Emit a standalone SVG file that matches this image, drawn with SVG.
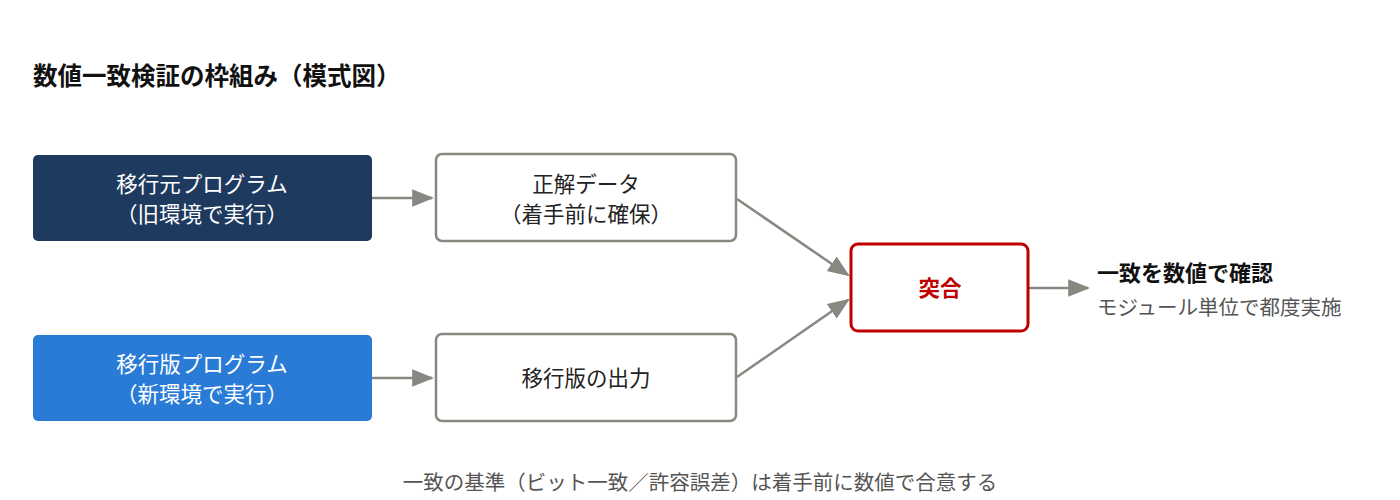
<svg xmlns="http://www.w3.org/2000/svg" width="1400" height="500" viewBox="0 0 1400 500">
<style>
text{font-family:"Noto Sans CJK JP","Noto Sans",sans-serif}
.t{font-size:21.5px;text-anchor:middle}
.w{fill:#fff}
.k{fill:#222}
.box{fill:#fff;stroke:#888780;stroke-width:2.5}
.c{stroke:#888780;stroke-width:2.5;fill:none}
</style>
<defs><marker id="ah" viewBox="0 0 10 10" refX="9" refY="5" markerWidth="22" markerHeight="22" markerUnits="userSpaceOnUse" orient="auto"><path d="M0,1L10,5L0,9z" fill="#888780"/></marker></defs>
<rect width="1400" height="500" fill="#fff"/>
<text x="33" y="85" font-size="24.5" font-weight="bold" fill="#111">数値一致検証の枠組み（模式図）</text>
<g id="connectors">
<line class="c" x1="372" y1="198" x2="432" y2="198" marker-end="url(#ah)"/>
<line class="c" x1="372" y1="378" x2="432" y2="378" marker-end="url(#ah)"/>
<line class="c" x1="737" y1="199" x2="848" y2="275" marker-end="url(#ah)"/>
<line class="c" x1="737" y1="377" x2="848" y2="300" marker-end="url(#ah)"/>
<line class="c" x1="1029" y1="288" x2="1088" y2="288" marker-end="url(#ah)"/>
</g>
<g id="src"><rect x="33" y="155" width="339" height="86" rx="5" fill="#1e3a5f"/>
<text class="t w" x="202" y="192">移行元プログラム</text><text class="t w" x="202" y="222">（旧環境で実行）</text></g>
<g id="new"><rect x="33" y="335" width="339" height="86" rx="5" fill="#2a7bd6"/>
<text class="t w" x="202" y="372">移行版プログラム</text><text class="t w" x="202" y="402">（新環境で実行）</text></g>
<g id="truth"><rect class="box" x="436" y="154" width="300" height="87" rx="6"/>
<text class="t k" x="586" y="192">正解データ</text><text class="t k" x="586" y="222">（着手前に確保）</text></g>
<g id="out"><rect class="box" x="436" y="334" width="300" height="87" rx="6"/>
<text class="t k" x="586" y="386">移行版の出力</text></g>
<g id="match"><rect x="851" y="244" width="177" height="87" rx="7" fill="#fff" stroke="#c00000" stroke-width="3"/>
<text class="t" x="940" y="296" fill="#c00000" font-weight="bold">突合</text></g>
<g id="result"><text x="1097" y="281" font-size="22" font-weight="bold" fill="#111">一致を数値で確認</text>
<text x="1097" y="315" font-size="20.5" fill="#555">モジュール単位で都度実施</text></g>
<text x="700" y="490" font-size="20.5" fill="#555" text-anchor="middle">一致の基準（ビット一致／許容誤差）は着手前に数値で合意する</text>
</svg>
